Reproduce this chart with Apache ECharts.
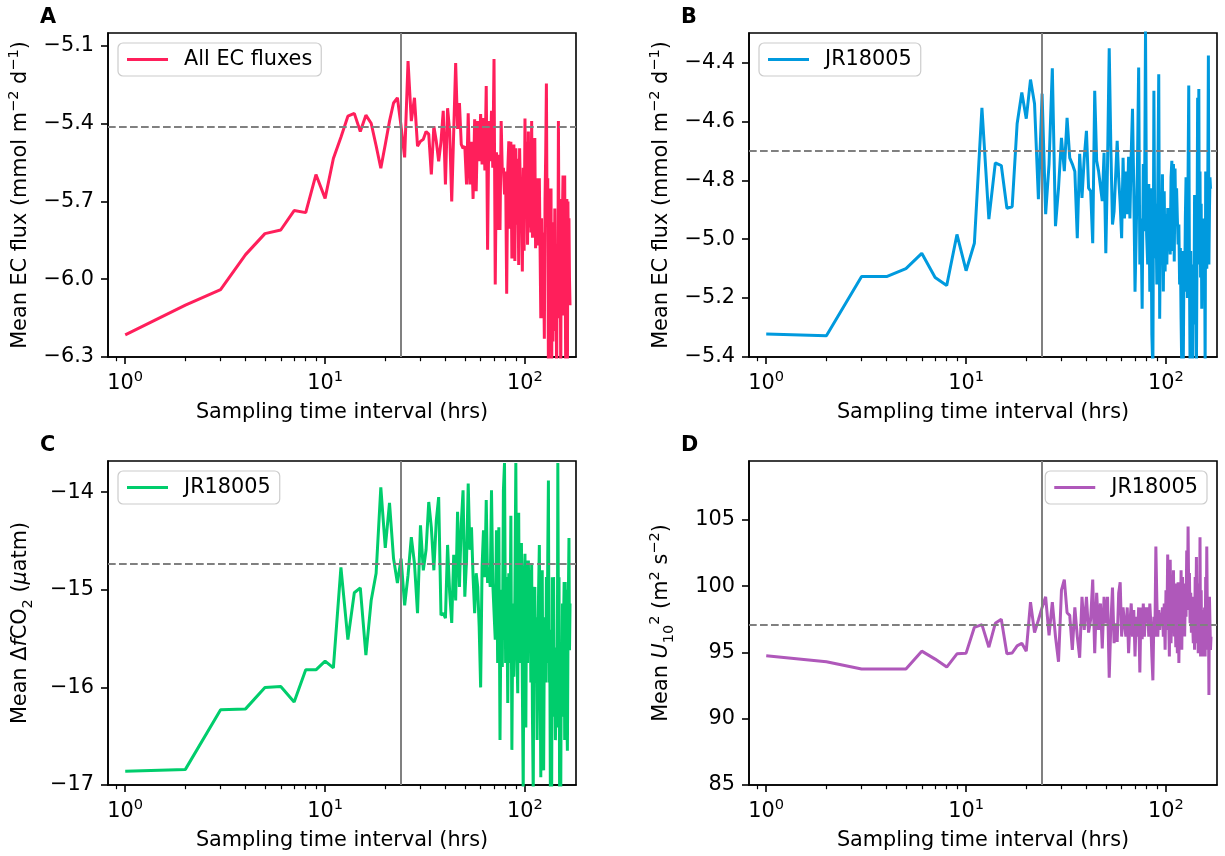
<!DOCTYPE html>
<html><head><meta charset="utf-8">
<script src="https://cdn.jsdelivr.net/npm/echarts@6/dist/echarts.min.js"></script>
<style>html,body{margin:0;padding:0;background:#fff}#c{width:1225px;height:856px}</style>
</head><body><div id="c"></div>
<script>
// Sampling time interval (hrs)
const hours = [1,2,3,4,5,6,7,8,9,10,11,12,13,14,15,16,17,18,19,20,21,22,23,24,25,26,27,28,29,30,31,32,33,34,35,36,37,38,39,40,41,42,43,44,45,46,47,48,49,50,51,52,53,54,55,56,57,58,59,60,61,62,63,64,65,66,67,68,69,70,71,72,73,74,75,76,77,78,79,80,81,82,83,84,85,86,87,88,89,90,91,92,93,94,95,96,97,98,99,100,101,102,103,104,105,106,107,108,109,110,111,112,113,114,115,116,117,118,119,120,121,122,123,124,125,126,127,128,129,130,131,132,133,134,135,136,137,138,139,140,141,142,143,144,145,146,147,148,149,150,151,152,153,154,155,156,157,158,159,160,161,162,163,164,165,166,167,168];

// Panel A: All EC fluxes (mmol m-2 d-1)
const fluxAll = [-6.215,-6.10,-6.04,-5.905,-5.824,-5.81,-5.735,-5.743,-5.596,-5.688,-5.534,-5.452,-5.371,-5.36,-5.43,-5.367,-5.398,-5.485,-5.572,-5.48,-5.39,-5.32,-5.30,-5.41,-5.53,-5.158,-5.39,-5.30,-5.487,-5.468,-5.46,-5.43,-5.44,-5.596,-5.41,-5.468,-5.545,-5.47,-5.35,-5.634,-5.34,-5.43,-5.70,-5.43,-5.166,-5.42,-5.32,-5.48,-5.495,-5.487,-5.634,-5.36,-5.634,-5.47,-5.69,-5.383,-5.66,-5.39,-5.545,-5.363,-5.557,-5.378,-5.58,-5.255,-5.886,-5.39,-5.545,-5.35,-5.57,-5.15,-6.02,-5.51,-5.81,-5.52,-5.81,-5.39,-5.584,-5.57,-5.673,-5.584,-6.056,-5.584,-5.468,-5.805,-5.47,-5.92,-5.65,-5.48,-5.93,-5.495,-5.79,-5.535,-5.945,-5.495,-5.69,-5.62,-5.97,-5.57,-5.89,-5.38,-5.765,-5.47,-5.867,-5.43,-5.80,-5.47,-5.82,-5.39,-5.84,-5.61,-5.69,-5.455,-5.88,-5.66,-5.82,-5.61,-5.87,-5.61,-5.88,-6.15,-5.765,-6.15,-5.82,-5.97,-6.23,-5.69,-5.51,-5.245,-5.79,-5.61,-6.36,-5.87,-5.65,-6.13,-5.65,-6.40,-5.78,-6.24,-5.87,-6.20,-5.727,-6.18,-5.945,-6.40,-5.87,-6.09,-5.39,-5.88,-6.15,-5.765,-6.40,-5.69,-5.88,-5.74,-5.60,-6.14,-5.727,-5.60,-6.02,-6.40,-5.82,-5.69,-6.40,-5.70,-5.945,-5.765,-6.00,-6.10];

// Panel B: JR18005 EC flux (mmol m-2 d-1)
const fluxJR = [-5.322,-5.328,-5.127,-5.127,-5.10,-5.048,-5.13,-5.157,-4.984,-5.107,-5.014,-4.554,-4.932,-4.741,-4.75,-4.895,-4.89,-4.608,-4.502,-4.591,-4.458,-4.54,-4.864,-4.506,-4.915,-4.745,-4.42,-4.956,-4.827,-4.656,-4.769,-4.588,-4.724,-4.745,-4.77,-4.997,-4.71,-4.86,-4.724,-4.632,-4.827,-4.837,-5.014,-4.496,-4.734,-4.769,-4.77,-4.871,-4.707,-5.048,-4.745,-4.352,-4.69,-4.95,-4.905,-4.905,-4.666,-4.793,-4.88,-4.997,-4.724,-4.93,-4.77,-4.915,-4.72,-4.93,-4.71,-4.557,-4.827,-5.178,-4.973,-4.745,-4.417,-5.086,-4.93,-5.236,-4.745,-4.973,-4.29,-4.984,-5.086,-4.813,-5.178,-4.827,-5.325,-5.45,-4.496,-5.065,-4.88,-5.154,-4.827,-4.44,-5.27,-4.87,-5.03,-4.78,-5.178,-4.837,-5.11,-4.915,-5.086,-4.894,-5.018,-4.97,-5.052,-4.79,-4.734,-5.04,-4.745,-5.076,-4.76,-4.95,-4.827,-4.93,-5.018,-4.95,-5.154,-5.03,-5.27,-5.45,-5.04,-5.45,-5.086,-5.178,-4.93,-4.79,-4.88,-5.20,-4.78,-4.478,-5.086,-5.45,-5.04,-5.29,-5.086,-5.45,-5.11,-5.29,-4.85,-5.19,-4.88,-5.45,-5.02,-4.52,-4.93,-4.49,-5.086,-4.77,-5.13,-4.88,-5.236,-4.97,-5.154,-4.93,-5.076,-5.00,-5.45,-4.77,-5.04,-5.10,-5.00,-4.77,-4.376,-5.086,-4.905,-4.79,-4.827,-4.83];

// Panel C: JR18005 delta fCO2 (uatm)
const dfco2 = [-16.86,-16.84,-16.23,-16.22,-16.00,-15.99,-16.15,-15.82,-15.82,-15.73,-15.80,-14.77,-15.51,-15.03,-14.98,-15.67,-15.11,-14.83,-13.95,-14.57,-14.11,-14.68,-14.93,-14.68,-15.16,-14.85,-14.46,-14.73,-15.24,-14.34,-14.80,-14.59,-14.10,-14.36,-14.80,-14.29,-14.05,-15.26,-15.24,-15.29,-14.54,-15.03,-15.34,-14.64,-15.11,-14.20,-14.97,-14.32,-13.98,-15.07,-14.70,-13.91,-14.59,-14.36,-14.87,-15.24,-14.83,-14.97,-15.38,-16.00,-14.77,-14.39,-14.87,-14.08,-14.93,-14.77,-14.97,-13.98,-14.93,-14.93,-15.51,-14.39,-15.75,-14.36,-16.54,-15.00,-15.79,-13.98,-13.70,-15.75,-14.87,-16.16,-14.83,-15.75,-14.24,-16.64,-15.14,-15.89,-15.07,-13.70,-15.55,-16.06,-14.21,-15.75,-15.00,-14.52,-15.95,-17.10,-14.93,-14.63,-16.41,-14.70,-15.75,-14.70,-15.41,-14.80,-15.95,-14.73,-16.30,-17.10,-15.14,-14.97,-15.95,-15.28,-16.54,-15.62,-15.00,-14.54,-15.75,-16.92,-15.28,-14.80,-16.30,-16.85,-15.41,-15.28,-15.95,-14.87,-15.75,-14.66,-13.88,-15.95,-15.41,-17.10,-15.62,-17.10,-14.87,-16.30,-14.87,-15.75,-15.59,-16.54,-16.01,-15.62,-16.41,-13.70,-15.28,-14.87,-17.10,-15.75,-17.10,-15.62,-16.03,-15.14,-16.30,-15.34,-14.92,-16.54,-14.92,-15.95,-15.00,-16.30,-16.65,-15.62,-15.00,-14.47,-15.62,-15.14];

// Panel D: JR18005 U10^2 (m2 s-2)
const u10sq = [94.75,94.3,93.75,93.75,93.75,95.1,94.5,93.9,94.9,94.95,96.9,97.1,95.4,97.2,97.5,94.9,94.96,95.5,95.7,95.1,98.8,96.5,97.45,98.4,99.2,96.3,98.8,96.2,94.3,99.7,100.5,98.0,97.8,95.2,98.4,96.2,94.6,99.2,96.7,99.2,96.5,97.5,100.5,94.95,99.5,96.7,98.7,95.3,99.2,97.2,99.2,93.1,97.2,99.9,95.7,97.2,95.8,99.5,100.3,96.2,98.4,97.2,96.2,98.4,94.95,97.2,98.7,96.2,98.2,94.7,97.7,96.2,98.4,93.5,98.4,96.0,98.7,96.2,98.4,97.2,98.4,96.2,98.7,97.2,94.7,92.9,97.7,96.2,103.0,99.0,96.2,98.2,96.7,98.0,97.2,98.4,96.2,98.7,95.2,99.7,96.7,102.4,98.2,94.7,102.0,95.7,100.2,96.7,101.2,96.2,98.7,95.4,100.2,94.95,100.3,94.2,98.2,96.2,101.2,95.2,100.7,97.2,100.2,96.2,99.7,97.7,102.7,98.2,104.5,99.0,101.0,97.2,99.5,96.5,99.2,97.2,95.7,98.4,95.2,100.7,96.2,102.2,95.7,100.2,94.95,98.2,96.0,103.7,94.7,99.7,95.2,98.2,94.7,97.7,96.2,98.4,94.7,100.7,96.2,103.0,98.2,95.2,99.2,91.8,99.2,97.2,95.2,96.2];

// Reference lines: overall mean (dashed) and 24 h interval (solid)
const meanValues = [-5.41, -4.70, -14.73, 97.1];
const dayMark = 24;

const panelLetters = ['A','B','C','D'];
const legendNames = ['All EC fluxes','JR18005','JR18005','JR18005'];
const colors = ['#FF1F5B','#009ADE','#00CD6C','#AF58BA'];
const xMajorTicks = [1, 10, 100];
const xMinorTicks = [0.9,2,3,4,5,6,7,8,9,20,30,40,50,60,70,80,90];
const xTickExp = {1:'0', 10:'1', 100:'2'};
const yRanges = [[-6.3,-5.05,0.3,1],[-5.4,-4.3,0.2,1],[-17,-13.68,1,0],[85,109.45,5,0]];

const FS = 20.8, FSS = 14.6;
const FONT = 'DejaVu Sans';
const grids = [
  {left:108, top:33, width:468, height:324},
  {left:749, top:33, width:468, height:324},
  {left:108, top:461, width:468, height:324},
  {left:749, top:461, width:468, height:324}
];
const yNames = [
  'Mean EC flux (mmol m{sup|\u22122} d{sup|\u22121})',
  'Mean EC flux (mmol m{sup|\u22122} d{sup|\u22121})',
  'Mean \u0394{i|f}CO{sub|2} ({i|\u03BC}atm)',
  'Mean {i|U}{sub|10}{sup|2} (m{sup|2} s{sup|\u22122})'
];
const series = [fluxAll, fluxJR, dfco2, u10sq];
const seriesNames = ['All EC fluxes','jrB','jrC','jrD'];

const richStyles = {
  i:{fontStyle:'italic', fontSize:FS, fontFamily:FONT, color:'#000', lineHeight:30},
  sup:{fontSize:FSS, fontFamily:FONT, color:'#000', verticalAlign:'top', lineHeight:30, padding:[1,0,0,0]},
  sub:{fontSize:FSS, fontFamily:FONT, color:'#000', verticalAlign:'bottom', lineHeight:30},
  b:{fontSize:FS, fontFamily:FONT, color:'#000', lineHeight:30}
};
const fmtMinus = s => s.replace('-', '\u2212');
const xAxes = [], yAxes = [], seriesList = [], legends = [], titles = [];
grids.forEach((g, i) => {
  g.show = true; g.borderColor = '#000'; g.borderWidth = 1.6; g.backgroundColor = 'transparent';
  xAxes.push({
    type:'log', logBase:10, gridIndex:i, min:0.82, max:180, position:'bottom',
    axisLine:{show:true, onZero:false, lineStyle:{color:'#000', width:1.6}},
    axisTick:{show:true, length:7, customValues:xMajorTicks, lineStyle:{color:'#000', width:1.6}},
    axisLabel:{show:true, customValues:xMajorTicks, formatter:v => '{b|10}{sup|' + (xTickExp[Math.round(v)] || '') + '}',
      rich:richStyles, fontSize:FS, fontFamily:FONT, color:'#000', margin:12},
    splitLine:{show:false}, minorTick:{show:false},
    name:'Sampling time interval (hrs)', nameLocation:'middle', nameGap:45,
    nameTextStyle:{fontSize:FS, fontFamily:FONT, color:'#000'}
  });
  xAxes.push({
    type:'log', logBase:10, gridIndex:i, min:0.82, max:180, position:'bottom',
    axisLine:{show:false},
    axisTick:{show:true, length:4.2, customValues:xMinorTicks, lineStyle:{color:'#000', width:1.2}},
    axisLabel:{show:false}, splitLine:{show:false}
  });
  const r = yRanges[i];
  yAxes.push({
    type:'value', gridIndex:i, min:r[0], max:r[1], interval:r[2],
    axisLine:{show:true, onZero:false, lineStyle:{color:'#000', width:1.6}},
    axisTick:{show:true, length:7, lineStyle:{color:'#000', width:1.6}},
    axisLabel:{showMaxLabel:false, formatter:v => fmtMinus(v.toFixed(r[3])), fontSize:FS, fontFamily:FONT, color:'#000', margin:14},
    splitLine:{show:false},
    name:yNames[i], nameLocation:'middle', nameRotate:90, nameGap:72,
    nameTextStyle:{fontSize:FS, fontFamily:FONT, color:'#000', lineHeight:30, rich:richStyles}
  });
  seriesList.push({
    type:'line', name:seriesNames[i], xAxisIndex:2*i, yAxisIndex:i,
    data: hours.map((h, k) => [h, series[i][k]]),
    symbol:'none', showSymbol:false, clip:true,
    lineStyle:{color:colors[i], width:3}, itemStyle:{color:colors[i]},
    animation:false,
    markLine:{silent:true, symbol:['none','none'], label:{show:false}, animation:false,
      data:[
        {xAxis:dayMark, lineStyle:{color:'#808080', width:2, type:'solid'}},
        {yAxis:meanValues[i], lineStyle:{color:'#808080', width:2, type:[7.7,3.3]}}
      ]}
  });
  const lg = {
    data:[seriesNames[i]], orient:'vertical', top: g.top + 10,
    icon:'rect', itemWidth:41, itemHeight:3, itemGap:8,
    backgroundColor:'rgba(255,255,255,0.8)', borderColor:'#cccccc', borderWidth:1.2, borderRadius:5,
    padding:[6,9,6,9], formatter: () => legendNames[i],
    textStyle:{fontSize:FS, fontFamily:FONT, color:'#000', padding:[0,0,0,11]},
    selectedMode:false
  };
  if (i === 3) lg.right = 1225 - (g.left + g.width) + 10; else lg.left = g.left + 10;
  legends.push(lg);
  titles.push({text:panelLetters[i], left: g.left - 73, top: g.top - 31,
    textStyle:{fontSize:FS, fontWeight:'bold', fontFamily:FONT, color:'#000'}});
});

const chart = echarts.init(document.getElementById('c'), null, {renderer:'canvas'});
chart.setOption({
  animation:false, backgroundColor:'#fff',
  title:titles, grid:grids, xAxis:xAxes, yAxis:yAxes, legend:legends, series:seriesList
});
</script></body></html>
